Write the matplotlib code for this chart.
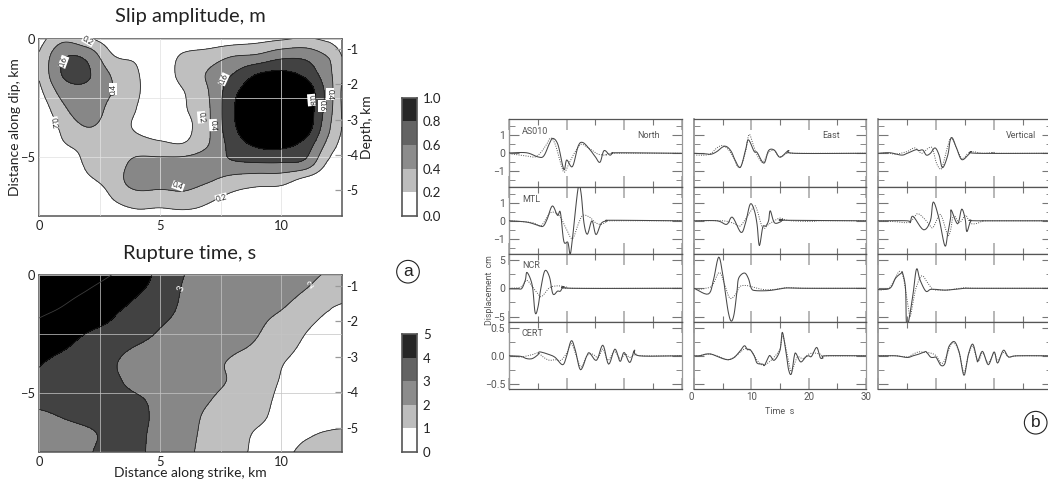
import numpy as np
import matplotlib
matplotlib.use("Agg")
import matplotlib.pyplot as plt

W, H = 1048, 482

# grid nodes shared by both source maps (km)
STRIKE_KM = [0, 1, 2, 3, 4, 5, 6, 7, 8, 9, 10, 11, 12, 12.5]
DIP_KM = [0, 0.75, 1.5, 2.25, 3, 3.75, 4.5, 5.25, 6, 6.75, 7.5]

SLIP = [
    [0.12, 0.35, 0.22, 0.10, 0.05, 0.02, 0.02, 0.05, 0.08, 0.12, 0.17, 0.22, 0.15, 0.08],
    [0.22, 0.58, 0.55, 0.22, 0.17, 0.08, 0.24, 0.30, 0.40, 0.44, 0.55, 0.55, 0.38, 0.20],
    [0.22, 0.62, 0.62, 0.38, 0.22, 0.10, 0.28, 0.42, 0.60, 0.80, 0.85, 0.75, 0.45, 0.22],
    [0.15, 0.48, 0.55, 0.40, 0.23, 0.08, 0.20, 0.40, 0.74, 0.95, 1.00, 0.95, 0.50, 0.18],
    [0.05, 0.36, 0.52, 0.33, 0.20, 0.05, 0.18, 0.38, 0.78, 1.00, 1.05, 0.95, 0.48, 0.19],
    [0.00, 0.25, 0.40, 0.30, 0.18, 0.10, 0.14, 0.38, 0.76, 0.98, 1.00, 0.92, 0.42, 0.20],
    [0.00, 0.18, 0.26, 0.27, 0.28, 0.24, 0.22, 0.40, 0.68, 0.83, 0.85, 0.72, 0.32, 0.14],
    [0.00, 0.03, 0.24, 0.28, 0.45, 0.46, 0.48, 0.53, 0.58, 0.60, 0.60, 0.55, 0.16, 0.08],
    [0.00, 0.00, 0.16, 0.28, 0.50, 0.48, 0.48, 0.42, 0.32, 0.28, 0.27, 0.14, 0.04, 0.00],
    [0.00, 0.00, 0.00, 0.20, 0.30, 0.30, 0.33, 0.24, 0.15, 0.10, 0.08, 0.03, 0.00, 0.00],
    [0.00, 0.00, 0.00, 0.08, 0.14, 0.12, 0.13, 0.12, 0.06, 0.00, 0.00, 0.00, 0.00, 0.00],
]
RUPTURE = [
    [5.9, 5.6, 5.3, 5.0, 4.55, 3.7, 3.0, 2.85, 2.7, 2.55, 2.4, 2.2, 1.9, 1.7],
    [5.6, 5.25, 4.95, 4.6, 4.1, 3.6, 2.9, 2.75, 2.6, 2.4, 2.25, 1.95, 1.6, 1.4],
    [5.2, 4.9, 4.55, 4.15, 3.75, 3.3, 2.85, 2.65, 2.45, 2.25, 2.0, 1.55, 1.0, 0.75],
    [4.75, 4.4, 4.1, 3.85, 3.5, 3.0, 2.75, 2.55, 2.3, 2.1, 1.6, 1.1, 0.6, 0.3],
    [4.4, 4.1, 3.75, 3.35, 3.0, 2.75, 2.6, 2.4, 2.15, 1.9, 1.35, 0.85, 0.4, 0.1],
    [4.05, 3.75, 3.55, 3.1, 2.7, 2.55, 2.4, 2.2, 1.9, 1.6, 1.05, 0.7, 0.4, 0.2],
    [3.85, 3.6, 3.4, 3.15, 2.8, 2.6, 2.35, 2.2, 1.9, 1.4, 0.95, 0.6, 0.4, 0.3],
    [3.4, 3.4, 3.35, 3.25, 3.08, 2.8, 2.4, 2.05, 1.7, 1.3, 0.85, 0.6, 0.5, 0.5],
    [2.75, 3.05, 3.25, 3.35, 3.2, 2.8, 2.35, 1.85, 1.55, 1.2, 0.75, 0.6, 0.6, 0.65],
    [2.35, 2.55, 2.85, 3.2, 3.15, 2.75, 2.3, 1.75, 1.4, 0.9, 0.7, 0.9, 1.1, 1.15],
    [2.0, 2.3, 2.9, 3.25, 3.15, 2.7, 2.25, 1.65, 1.3, 0.85, 0.8, 1.2, 1.35, 1.4],
]
SLIP_LEVELS = [0.0, 0.2, 0.4, 0.6, 0.8, 1.0]
RUPTURE_LEVELS = [0, 1, 2, 3, 4, 5]

MAP_GRAYS = ["#ffffff", "#bfbfbf", "#878787", "#424242", "#000000"]
BAR_GRAYS = ["#ffffff", "#bdbdbd", "#8c8c8c", "#636363", "#262626"]

# (x km, y km, text, rotation)
SLIP_LABELS = [
    (2.02, 0.08, "0.2", -30), (1.0, 0.98, "0.6", 70), (3.05, 2.15, "0.4", 90),
    (0.62, 3.56, "0.2", -82), (7.62, 1.72, "0.6", 65), (6.7, 3.33, "0.2", -85),
    (7.18, 3.66, "0.4", -88), (11.25, 2.6, "0.8", -85), (11.68, 2.85, "0.6", -90),
    (12.02, 2.35, "0.4", -90), (5.74, 6.24, "0.4", -20), (7.52, 6.74, "0.2", 15),
]
RUPTURE_LABELS = [(5.87, 0.58, "3", 70), (11.24, 0.44, "2", 40)]

# waveforms: observed (solid) and synthetic (dotted), time in s
AS_N_OT = [0, 3, 5, 6, 7, 7.6, 8.5, 9.5, 10, 11, 12, 12.8, 14, 15, 15.8, 16.5, 17.5, 18, 19, 30]
AS_N_OY = [0.02, 0.03, -0.2, -0.15, 0.55, 0.83, 0.46, -0.9, -0.37, -0.74, 0.4, 0.6, 0.22, -0.2, -0.5, 0.15, -0.1, 0, 0.03, 0]
AS_N_ST = [0, 3, 4.5, 5.5, 6.5, 7.2, 8, 9, 9.6, 10.5, 11.5, 12.5, 13.5, 14.5, 15.5, 17, 18, 30]
AS_N_SY = [-0.02, -0.15, -0.2, 0.05, 0.5, 0.85, 0.5, -0.6, -1.05, -0.5, 0.1, 0.5, 0.35, 0.15, -0.05, -0.1, 0, 0]

AS_E_OT = [0, 2, 3, 4, 5, 5.7, 6.5, 7.2, 8.1, 9, 9.5, 10.5, 11, 12.2, 13, 14, 15, 16.5, 17.5, 30]
AS_E_OY = [0, -0.03, -0.05, 0.1, 0.35, 0.37, 0.1, -0.4, -0.78, 0.2, 0.75, 0.1, 0.05, -0.55, 0.15, 0.18, -0.22, 0.15, 0, 0]
AS_E_ST = [0, 2, 3, 4, 5, 6, 7, 7.5, 8.2, 9, 9.6, 10.3, 11, 12, 13, 14, 15, 16.5, 17.5, 30]
AS_E_SY = [-0.1, -0.1, 0, 0.3, 0.43, 0.2, -0.3, -0.7, -0.7, 0.1, 1.05, 0.5, -0.1, -0.5, 0.05, 0.15, -0.2, 0.05, 0, 0]

AS_V_OT = [0, 2, 4, 5, 6.5, 7, 7.7, 8.3, 9, 9.8, 10.5, 11.1, 12, 12.4, 12.8, 13.5, 14.4, 15.5, 16.1, 17, 30]
AS_V_OY = [0, 0.03, -0.1, 0, 0.2, 0.15, 0.18, -0.1, 0, 0.3, -0.1, -0.8, -0.1, 0.7, 0.85, 0.3, -0.35, -0.1, 0.1, 0, 0]
AS_V_ST = [0, 2, 3, 5, 6.3, 7.5, 8.5, 9.3, 10, 10.5, 11, 12, 12.6, 13.5, 14.5, 15.5, 16.5, 18, 20, 20.5, 30]
AS_V_SY = [0, 0, -0.05, 0.1, 0.3, 0, 0.25, 0.3, -0.5, -0.8, -0.8, 0.4, 0.85, 0.3, -0.3, 0, 0.08, 0, 0.05, 0, 0]

MT_N_OT = [0, 3, 5, 5.9, 6.6, 7.5, 8.4, 8.9, 9.5, 10.2, 10.6, 11, 12, 12.5, 13, 13.6, 14.4, 15.1, 16, 17, 18, 30]
MT_N_OY = [0, -0.07, -0.25, -0.3, 0.1, 0.83, 0.3, 0.47, -1.15, -1.2, -1.85, -1.0, 1.85, 1.55, -0.1, -0.75, 0, -0.77, -0.15, 0, 0.03, 0]
MT_N_ST = [0, 4, 5.5, 7, 8, 9, 10, 11, 12, 12.8, 14, 15, 16, 17, 18, 30]
MT_N_SY = [0, -0.1, -0.28, 0.4, 0.45, 0.15, -0.5, -1.0, -0.2, 0.3, 0.2, -0.1, -0.2, -0.05, 0, 0]

MT_E_OT = [0, 4, 5.7, 6.7, 8.2, 9, 9.8, 10.5, 11, 11.4, 12, 12.5, 13, 13.3, 14, 15, 15.5, 16, 30]
MT_E_OY = [0, 0, -0.2, 0.2, -0.65, -0.1, 0.93, 0.6, -0.2, -1.38, -0.35, -0.3, 0, 0.56, -0.1, -0.07, 0.05, 0.03, 0]
MT_E_ST = [0, 5, 7, 8, 9, 10.5, 11, 12, 13, 14, 15, 16, 17, 19, 21, 22, 30]
MT_E_SY = [0, 0, -0.15, -0.3, 0.1, 0.8, 0.6, -0.4, -0.2, 0, 0.15, 0.05, 0, -0.03, -0.03, 0, 0]

MT_V_OT = [0, 5, 5.5, 6, 7.8, 9, 9.5, 10.5, 11.5, 12, 12.5, 12.6, 13.7, 14.4, 15, 15.3, 16, 17, 30]
MT_V_OY = [0, 0, -0.1, 0.25, -0.5, 0, 1.05, 0.1, -1.4, -0.7, 0.2, 0.6, -0.17, 0.65, 0.1, -0.6, 0, 0, 0]
MT_V_ST = [0, 3, 5, 6, 6.8, 8, 9, 9.5, 10.5, 11, 12, 12.5, 13, 14, 15, 15.5, 16, 17, 18, 19, 30]
MT_V_SY = [0, -0.05, -0.1, 0.1, 0.4, 0.1, -0.3, -0.35, 0.3, 0.2, -0.8, -0.5, 0.3, -0.1, 0.3, 0.1, -0.15, -0.15, -0.02, 0, 0]

NC_N_OT = [0, 1.5, 2.2, 2.8, 3.1, 4, 4.5, 5, 5.5, 6.2, 7, 7.6, 8.4, 8.9, 9.5, 11, 30]
NC_N_OY = [-0.1, -0.1, 0, 1.5, 2.8, 0.5, -4.3, -3.3, 0, 3.1, 2, -1, -0.5, -0.5, 0.3, 0, 0]
NC_N_ST = [0, 2, 3, 4, 5, 5.5, 6, 7, 8, 9, 10, 11, 30]
NC_N_SY = [0, 0.2, 1.4, 0.3, -1, -1.5, -1.1, 0.1, 0.4, 0.4, 0.2, 0, 0]

NC_E_OT = [0, 2.5, 3.4, 4.3, 5, 5.5, 6, 6.5, 7, 7.5, 7.8, 8.8, 9.5, 10, 10.7, 13, 15, 16, 17, 20, 30]
NC_E_OY = [0, -1, 1.5, 5.5, 2.5, -1, -4.3, -5.8, -4.5, -0.5, 1.8, 2.7, 1.7, 0, -0.4, -0.4, -0.1, 0.05, 0.05, 0, 0]
NC_E_ST = [0, 2, 3.2, 4.4, 5.3, 6, 6.5, 7.3, 8, 9, 10, 12, 14, 16, 18, 20, 30]
NC_E_SY = [-0.3, 0, 0.5, 2.8, 0.8, -1.3, -1.8, -1, 0.3, 0.5, 0.3, -0.2, -0.2, 0.1, 0.05, 0, 0]

NC_V_OT = [0, 2, 3, 4, 4.2, 4.7, 4.85, 5.2, 6, 6.6, 7.2, 8.2, 9, 10, 11, 12, 14, 15, 17, 30]
NC_V_OY = [-0.2, 0, 1.8, 2.7, 2.7, 0, -6, -6, -1, 3.4, 1.5, -0.5, -0.2, -0.2, -0.3, -0.3, -0.1, 0, 0, 0]
NC_V_ST = [0, 1, 2, 3, 3.7, 4.3, 5.2, 5.5, 6, 6.5, 7.5, 8.5, 9.5, 11, 12, 15, 17, 30]
NC_V_SY = [-0.4, -0.2, 0.2, 2, 3, 2, -3.5, -5, -2.5, 0, 2.2, 1, -0.2, -0.3, -0.3, 0.1, 0, 0]

CE_N_OT = [0, 2, 3, 4, 5, 5.3, 7, 8, 9.3, 10, 10.8, 11.5, 12.4, 13.5, 14, 15.2, 16.3, 17.3, 18.4, 19.3, 20, 21, 21.8, 22.6, 30]
CE_N_OY = [0, -0.01, -0.05, -0.05, 0.02, 0.07, 0.02, -0.03, -0.16, 0, 0.27, 0.1, -0.25, 0, 0.05, -0.08, 0.19, -0.15, 0.12, -0.1, 0.06, -0.12, 0.1, 0, 0]
CE_N_ST = [0, 2, 4, 5, 6, 7, 8, 9, 10, 10.8, 11.5, 12.5, 13.5, 14.5, 15.5, 16.3, 17.2, 18.3, 19.3, 20.2, 21, 22, 23, 30]
CE_N_SY = [0, -0.02, 0.02, 0.05, -0.03, -0.08, -0.07, -0.08, 0.05, 0.22, 0.05, -0.2, 0, 0.03, -0.03, 0.12, -0.08, 0.08, -0.05, 0.03, -0.03, 0.03, 0, 0]

CE_E_OT = [0, 1, 2, 3, 4, 5, 6, 7, 8, 8.8, 9.3, 9.8, 10.5, 11, 12, 12.3, 13, 13.3, 14, 15, 15.4, 16, 16.5, 17, 17.5, 17.8, 18.6, 19.5, 20, 20.5, 21.4, 22, 22.5, 23, 30]
CE_E_OY = [0, 0, 0.03, 0.03, -0.01, -0.05, -0.07, -0.03, 0.08, 0.18, 0.11, 0.11, 0, -0.13, -0.15, -0.17, -0.02, 0, -0.08, 0.1, 0.42, 0.1, -0.25, -0.32, 0, 0.04, -0.11, -0.02, 0, -0.01, 0.15, -0.03, -0.04, 0, 0]
CE_E_ST = [0, 2, 3, 5, 6, 7, 8, 9, 10, 11, 12, 13, 14, 15, 15.5, 16.5, 17, 18, 19, 20, 21, 22, 23, 30]
CE_E_SY = [-0.01, 0.02, 0.03, -0.04, -0.07, -0.03, 0.06, 0.13, 0.08, -0.08, -0.17, -0.12, -0.02, 0.12, 0.35, -0.1, -0.28, -0.03, -0.05, 0.03, 0.05, 0.03, 0, 0]

CE_V_OT = [0, 3, 5, 6, 7, 8, 8.3, 9, 9.5, 10, 10.8, 11.5, 12, 12.4, 13.2, 14, 14.8, 15.5, 16.3, 17, 17.2, 18, 19, 20, 20.6, 21.6, 22.5, 24, 30]
CE_V_OY = [0, 0, -0.03, 0, 0.03, 0.07, 0.07, -0.02, -0.03, -0.03, -0.17, -0.14, 0.1, 0.2, 0.25, 0.05, -0.35, 0, 0.21, -0.05, -0.1, 0.08, -0.16, 0.07, -0.13, 0.1, -0.02, 0, 0]
CE_V_ST = [0, 3, 5, 6, 7, 8, 9, 10, 11, 12, 12.5, 13.2, 14, 14.8, 15.5, 16.3, 17.2, 18, 19, 20, 20.6, 21.6, 22.5, 24, 30]
CE_V_SY = [0, 0, -0.02, 0.03, 0.07, 0.06, 0.05, 0, -0.14, 0.05, 0.2, 0.22, 0.05, -0.3, 0, 0.17, -0.1, 0.05, -0.12, 0.05, -0.08, 0.06, -0.02, 0, 0]

TRACES = [
    [(AS_N_OT, AS_N_OY, AS_N_ST, AS_N_SY), (AS_E_OT, AS_E_OY, AS_E_ST, AS_E_SY), (AS_V_OT, AS_V_OY, AS_V_ST, AS_V_SY)],
    [(MT_N_OT, MT_N_OY, MT_N_ST, MT_N_SY), (MT_E_OT, MT_E_OY, MT_E_ST, MT_E_SY), (MT_V_OT, MT_V_OY, MT_V_ST, MT_V_SY)],
    [(NC_N_OT, NC_N_OY, NC_N_ST, NC_N_SY), (NC_E_OT, NC_E_OY, NC_E_ST, NC_E_SY), (NC_V_OT, NC_V_OY, NC_V_ST, NC_V_SY)],
    [(CE_N_OT, CE_N_OY, CE_N_ST, CE_N_SY), (CE_E_OT, CE_E_OY, CE_E_ST, CE_E_SY), (CE_V_OT, CE_V_OY, CE_V_ST, CE_V_SY)],
]
STATIONS = ["AS010", "MTL", "NCR", "CERT"]
ROW_LIMITS = [1.89, 1.87, 6.0, 0.6]
ROW_MAJOR = [[-1, 0, 1], [-1, 0, 1], [-5, 0, 5], [-0.5, 0, 0.5]]
ROW_MINOR = [[-1.5, -0.5, 0.5, 1.5], [-1.5, -0.5, 0.5, 1.5], [-2.5, 2.5], [-0.25, 0.25]]
ROW_LABELS = [["\u22121", "0", "1"], ["\u22121", "0", "1"], ["\u22125", "0", "5"], ["\u22120.5", "0.0", "0.5"]]

TEXT_FONT = "Lato"
WAVE_FONT = "Roboto"
FRAME = "#555555"
WAVE_TEXT = "#555555"


def px_axes(fig, left, top, right, bottom):
    return fig.add_axes([left / W, 1 - bottom / H, (right - left) / W, (bottom - top) / H])


def fig_text(fig, x, y, s, **kw):
    kw.setdefault("ha", "center")
    kw.setdefault("va", "center")
    return fig.text(x / W, 1 - y / H, s, **kw)


def _cr_axis(a, n):
    # Catmull-Rom resampling along the first axis, only to round contours and traces
    a = np.asarray(a, float)
    p = np.concatenate([[2 * a[0] - a[1]], a, [2 * a[-1] - a[-2]]])
    u = np.linspace(0, len(a) - 1, (len(a) - 1) * n + 1)
    i = np.minimum(u.astype(int), len(a) - 2)
    t = (u - i).reshape((-1,) + (1,) * (a.ndim - 1))
    p0, p1, p2, p3 = p[i], p[i + 1], p[i + 2], p[i + 3]
    return 0.5 * (2 * p1 + (p2 - p0) * t + (2 * p0 - 5 * p1 + 4 * p2 - p3) * t**2
                  + (3 * p1 - p0 - 3 * p2 + p3) * t**3)


def fine_grid(field, n=10):
    z = _cr_axis(field, n)
    z = _cr_axis(z.T, n).T
    xi = np.linspace(0, len(STRIKE_KM) - 1, (len(STRIKE_KM) - 1) * n + 1)
    yi = np.linspace(0, len(DIP_KM) - 1, (len(DIP_KM) - 1) * n + 1)
    x = np.interp(xi, np.arange(len(STRIKE_KM)), STRIKE_KM)
    y = -np.interp(yi, np.arange(len(DIP_KM)), DIP_KM)
    return x, y, z


def draw_map(ax, field, levels, labels, depth_top, depth_bottom, grid_color, top_line=False):
    x, y, z = fine_grid(field)
    z = np.clip(z, 0, None)
    ax.contourf(x, y, z, levels=levels, colors=MAP_GRAYS, extend="neither", zorder=1)
    ax.contourf(x, y, z, levels=[levels[-1], z.max() + 1], colors=[MAP_GRAYS[-1]], zorder=1)
    ax.contour(x, y, z, levels=levels[1:-1], colors="#1a1a1a", linewidths=0.55, zorder=3)
    if top_line:
        ax.contour(x, y, z, levels=[levels[-1]], colors="#3c3c3c", linewidths=0.6, zorder=3)

    ax.set_xlim(0, 12.5)
    ax.set_ylim(-7.5, 0)
    ax.set_xticks([0, 5, 10])
    ax.set_xticks([2.5, 7.5], minor=True)
    ax.set_yticks([0, -5])
    ax.set_yticks([-2.5], minor=True)
    ax.set_axisbelow(False)
    ax.grid(True, which="both", color=grid_color, linewidth=0.7, alpha=0.75, zorder=2)
    ax.tick_params(which="both", length=0, labelsize=9.3, pad=3, labelcolor="#222222")
    for s in ax.spines.values():
        s.set_color(FRAME)
        s.set_linewidth(1.1)
    for lab in ax.get_xticklabels() + ax.get_yticklabels():
        lab.set_fontfamily(TEXT_FONT)

    for lx, ly, s, rot in labels:
        ax.text(lx, -ly, s, rotation=rot, ha="center", va="center", fontsize=5.8 if len(s) > 1 else 7,
                family=TEXT_FONT, color="#222222" if len(s) > 1 else "white", zorder=5,
                bbox=dict(boxstyle="square,pad=0.06", fc="white", ec="none") if len(s) > 1 else None)

    depth = ax.twinx()
    depth.set_ylim(depth_bottom, depth_top)
    depth.set_yticks([-1, -2, -3, -4, -5])
    depth.set_yticklabels(["-1", "-2", "-3", "-4", "-5"], family=TEXT_FONT, fontsize=9.3, color="#222222")
    depth.tick_params(direction="in", length=5, width=0.9, color="#999999", pad=3)
    for s in depth.spines.values():
        s.set_visible(False)


def draw_bar(ax, levels, fmt):
    ax.pcolormesh([0, 1], levels, np.arange(5).reshape(-1, 1),
                  cmap=matplotlib.colors.ListedColormap(BAR_GRAYS), vmin=-0.5, vmax=4.5)
    ax.set_xticks([])
    ax.yaxis.tick_right()
    ax.set_yticks(levels)
    ax.set_yticklabels([fmt.format(v) for v in levels], family=TEXT_FONT, fontsize=9.5, color="#222222")
    ax.tick_params(length=0, pad=4)
    for s in ax.spines.values():
        s.set_color(FRAME)
        s.set_linewidth(1.2)


def draw_wave(ax, trace, row, col):
    ot, oy, st, sy = trace
    ax.plot(_cr_axis(st, 6), _cr_axis(sy, 6), color="#555555", lw=0.7, ls=(0, (1, 1.4)), zorder=2)
    ax.plot(_cr_axis(ot, 6), _cr_axis(oy, 6), color="#484848", lw=0.75, zorder=3)
    lim = ROW_LIMITS[row]
    ax.set_xlim(0, 30)
    ax.set_ylim(-lim, lim)
    ax.set_xticks([0, 10, 20, 30])
    ax.set_xticks([5, 15, 25], minor=True)
    ax.set_yticks(ROW_MAJOR[row])
    ax.set_yticks(ROW_MINOR[row], minor=True)
    ax.tick_params(axis="x", which="major", direction="in", top=True, bottom=True, length=8,
                   width=1.2, color="#aaaaaa")
    ax.tick_params(axis="x", which="minor", direction="in", top=True, bottom=True, length=4,
                   width=0.8, color="#777777")
    ax.tick_params(axis="y", which="major", direction="in", left=True, right=True, length=7,
                   width=0.8, color="#777777")
    ax.tick_params(axis="y", which="minor", direction="in", left=True, right=True, length=4,
                   width=0.7, color="#888888")
    ax.set_xticklabels([])
    ax.set_yticklabels([])
    if col == 0:
        ax.set_yticklabels(ROW_LABELS[row], family=WAVE_FONT, fontsize=7.5, color=WAVE_TEXT)
        ax.tick_params(axis="y", which="major", pad=3)
    ax.spines["top"].set_color("#555555")
    ax.spines["bottom"].set_color("#555555")
    ax.spines["left"].set_color("#999999")
    ax.spines["right"].set_color("#999999")
    ax.spines["left"].set_linewidth(1.3 if col else 1.0)
    ax.spines["right"].set_linewidth(0.9)
    ax.spines["top"].set_linewidth(0.9)
    ax.spines["bottom"].set_linewidth(0.9)


fig = plt.figure(figsize=(W / 100, H / 100), dpi=100)

slip_ax = px_axes(fig, 39.3, 38.7, 341.7, 215.7)
draw_map(slip_ax, SLIP, SLIP_LEVELS, SLIP_LABELS, -0.7, -5.73, "#e2e2e2")
rupture_ax = px_axes(fig, 39.3, 274.7, 341.7, 452)
draw_map(rupture_ax, RUPTURE, RUPTURE_LEVELS, RUPTURE_LABELS, -0.68, -5.69, "#c4c4c4", top_line=True)

draw_bar(px_axes(fig, 402.3, 97.7, 417.3, 216), SLIP_LEVELS, "{:.1f}")
draw_bar(px_axes(fig, 402.3, 334, 417.3, 452), RUPTURE_LEVELS, "{:d}")

fig_text(fig, 190, 16.5, "Slip amplitude, m", family=TEXT_FONT, fontsize=14.5, color="#222222")
fig_text(fig, 190, 253, "Rupture time, s", family=TEXT_FONT, fontsize=14.4, color="#222222")
fig_text(fig, 190, 473, "Distance along strike, km", family=TEXT_FONT, fontsize=10, color="#222222")
fig_text(fig, 15, 127, "Distance along dip, km", family=TEXT_FONT, fontsize=10, rotation=90, color="#222222")
fig_text(fig, 367, 127, "Depth, km", family=TEXT_FONT, fontsize=10, rotation=90, color="#222222")

for cx, cy, s in [(408, 271.7, "a"), (1035.7, 422.7, "b")]:
    fig_text(fig, cx, cy, s, family="Liberation Sans", fontsize=12.5, color="#222222",
             bbox=dict(boxstyle="circle,pad=0.22", fc="white", ec="#222222", lw=0.8))

COLS = [(509.3, 681.5), (694, 866), (878.3, 1052)]
ROWS = [(119.3, 187.3), (187.3, 254.3), (254.3, 322.3), (322.3, 389.3)]
for r, (top, bottom) in enumerate(ROWS):
    for c, (left, right) in enumerate(COLS):
        ax = px_axes(fig, left, top, right, bottom)
        draw_wave(ax, TRACES[r][c], r, c)

for (y, name) in zip([131.7, 199, 266, 334], STATIONS):
    fig_text(fig, 522, y, name, family=WAVE_FONT, fontsize=6.5, color=WAVE_TEXT, ha="left")
fig_text(fig, 649, 136, "North", family=WAVE_FONT, fontsize=6.5, color=WAVE_TEXT)
fig_text(fig, 831.5, 136, "East", family=WAVE_FONT, fontsize=6.5, color=WAVE_TEXT)
fig_text(fig, 1021.5, 136, "Vertical", family=WAVE_FONT, fontsize=6.5, color=WAVE_TEXT)
fig_text(fig, 489.5, 290, "Displacement  cm", family=WAVE_FONT, fontsize=6.3, color=WAVE_TEXT, rotation=90)
fig_text(fig, 780, 412, "Time  s", family=WAVE_FONT, fontsize=6.5, color=WAVE_TEXT)
for x, s in [(691, "0"), (751.5, "10"), (809, "20"), (866, "30")]:
    fig_text(fig, x, 396.5, s, family=WAVE_FONT, fontsize=7, color=WAVE_TEXT)

fig.savefig("out.png", dpi=100)
